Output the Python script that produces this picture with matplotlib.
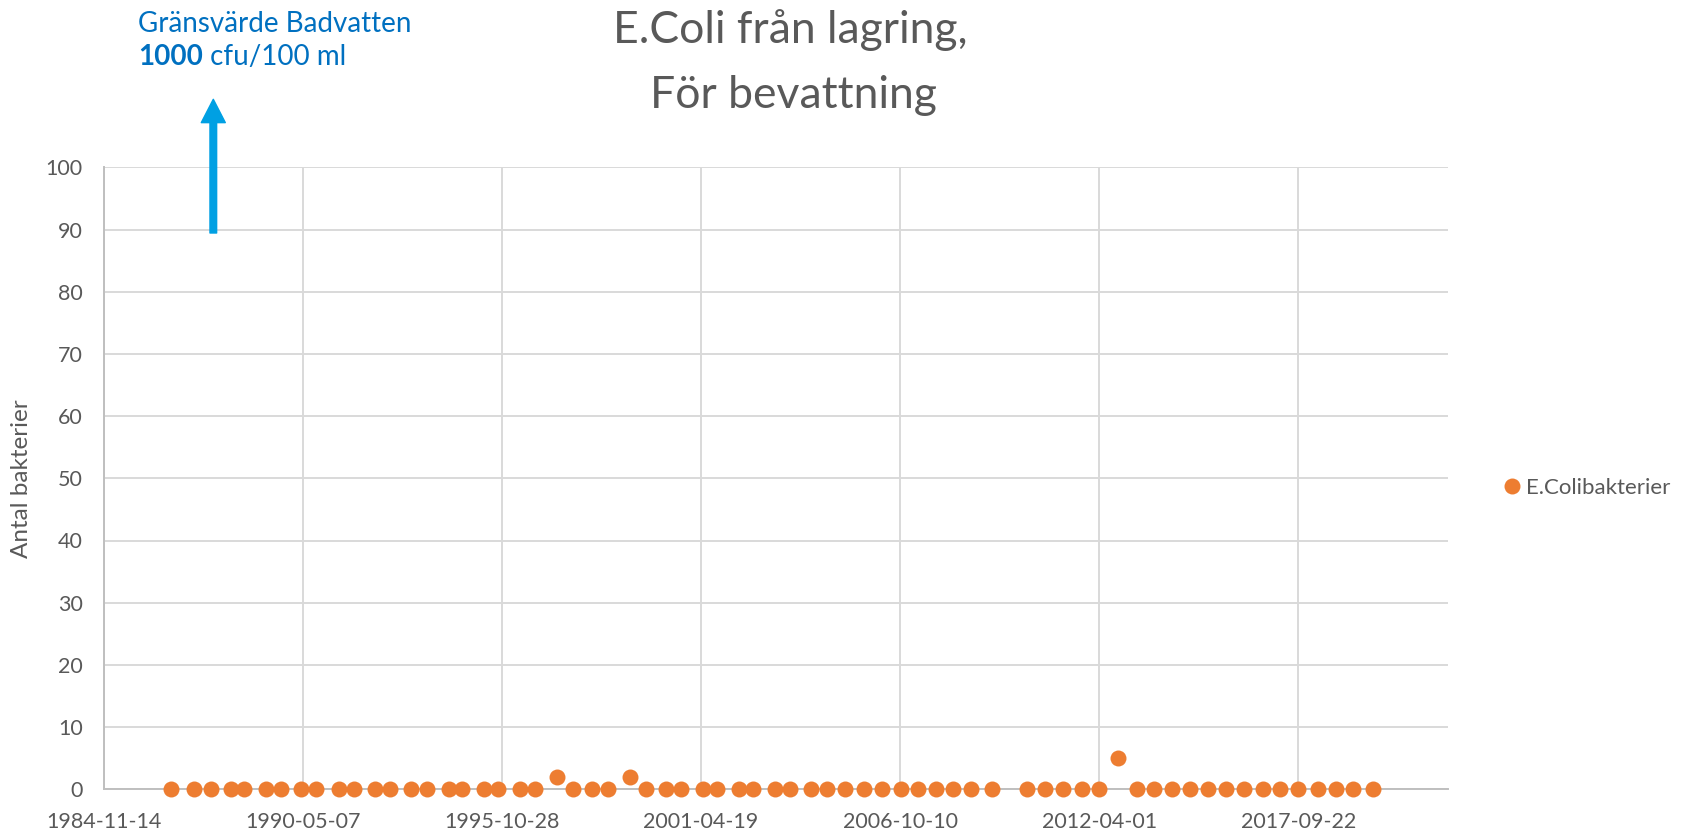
import numpy as np
import matplotlib
matplotlib.use("Agg")
import matplotlib.pyplot as plt
import matplotlib.dates as mdates

plt.rcParams["font.family"] = ["Lato", "DejaVu Sans"]

# E. coli per sample (cfu/100 ml) in the stored irrigation water
sample_dates = [
    "1986-09-21", "1987-05-14", "1987-10-28", "1988-05-16", "1988-09-28",
    "1989-05-03", "1989-10-04", "1990-04-20", "1990-09-21", "1991-05-06",
    "1991-10-07", "1992-05-02", "1992-10-04", "1993-04-29", "1993-10-09",
    "1994-05-15", "1994-09-27", "1995-05-02", "1995-09-19", "1996-04-25",
    "1996-09-23", "1997-05-02", "1997-10-13", "1998-04-25", "1998-09-29",
    "1999-05-12", "1999-10-19", "2000-05-08", "2000-10-06", "2001-05-06",
    "2001-10-02", "2002-05-05", "2002-09-29", "2003-05-01", "2003-09-28",
    "2004-04-27", "2004-10-02", "2005-04-10", "2005-10-12", "2006-04-10",
    "2006-10-15", "2007-04-04", "2007-10-05", "2008-03-28", "2008-09-24",
    "2009-04-17", "2010-04-09", "2010-10-04", "2011-04-06", "2011-10-13",
    "2012-04-01", "2012-10-04", "2013-04-18", "2013-10-03", "2014-03-30",
    "2014-09-29", "2015-04-01", "2015-09-26", "2016-03-29", "2016-09-29",
    "2017-03-23", "2017-09-22", "2018-04-05", "2018-10-03", "2019-03-28",
    "2019-10-15",
]
ecoli_counts = [
    0, 0, 0, 0, 0, 0, 0, 0, 0, 0,
    0, 0, 0, 0, 0, 0, 0, 0, 0, 0,
    0, 2, 0, 0, 0, 2, 0, 0, 0, 0,
    0, 0, 0, 0, 0, 0, 0, 0, 0, 0,
    0, 0, 0, 0, 0, 0, 0, 0, 0, 0,
    0, 5, 0, 0, 0, 0, 0, 0, 0, 0,
    0, 0, 0, 0, 0, 0,
]

axis_start = "1984-11-14"
axis_end = "2021-11-01"
tick_step_days = 2000
n_date_ticks = 7
y_ticks = list(range(0, 101, 10))

TEXT = "#595959"
GRID = "#D9D9D9"
ORANGE = "#ED7D31"
BLUE_TEXT = "#0070C0"
BLUE_ARROW = "#00A0E3"

W, H = 1682, 832
fig = plt.figure(figsize=(W / 100, H / 100), dpi=100)
ax = fig.add_axes([103.5 / W, (H - 789.3) / H, (1447.7 - 103.5) / W, (789.3 - 167.3) / H])

dates = np.array(sample_dates, dtype="datetime64[D]")
ax.plot(dates, ecoli_counts, "o", color=ORANGE, markersize=11.5,
        markeredgewidth=0, label="E.Colibakterier", clip_on=False, zorder=5)

start = np.datetime64(axis_start)
tick_dates = start + np.arange(n_date_ticks) * np.timedelta64(tick_step_days, "D")
ax.set_xlim(start, np.datetime64(axis_end))
ax.set_xticks(tick_dates)
ax.xaxis.set_major_formatter(mdates.DateFormatter("%Y-%m-%d"))
ax.set_ylim(0, 100)
ax.set_yticks(y_ticks)

ax.grid(True, color=GRID, linewidth=1.4)
ax.set_axisbelow(True)
for side in ("top", "right"):
    ax.spines[side].set_visible(False)
for side in ("left", "bottom"):
    ax.spines[side].set_color("#BFBFBF")
    ax.spines[side].set_linewidth(1.4)
ax.tick_params(axis="both", length=0, labelsize=15.5, labelcolor=TEXT)
ax.tick_params(axis="x", pad=16)
ax.tick_params(axis="y", pad=15)

ax.set_ylabel("Antal bakterier", fontsize=17.5, color=TEXT, labelpad=10)

# two-line title
fig.text(790 / W, (H - 43) / H, "E.Coli från lagring,", ha="center", va="baseline",
         fontsize=32, color=TEXT)
fig.text(793 / W, (H - 108) / H, "För bevattning", ha="center", va="baseline",
         fontsize=32, color=TEXT)

# limit value note with arrow pointing off the scale
fig.text(137.7 / W, (H - 32) / H, "Gränsvärde Badvatten", ha="left", va="baseline",
         fontsize=20, color=BLUE_TEXT)
t_bold = fig.text(137.7 / W, (H - 65) / H, "1000", ha="left", va="baseline",
                  fontsize=20, fontweight="bold", color=BLUE_TEXT)
ax.annotate(" cfu/100 ml", xy=(1, 0), xycoords=t_bold, ha="left", va="bottom",
            fontsize=20, color=BLUE_TEXT, annotation_clip=False)

arrow_x = (213.3 - 103.5) / (1447.7 - 103.5)
ax.annotate("", xy=(arrow_x, (789.3 - 99.3) / 622), xytext=(arrow_x, (789.3 - 233) / 622),
            xycoords="axes fraction", textcoords="axes fraction",
            arrowprops=dict(arrowstyle="simple,head_width=1.73,head_length=1.68,tail_width=0.48",
                            mutation_scale=10, color=BLUE_ARROW, shrinkA=0, shrinkB=0),
            annotation_clip=False)

ax.legend(loc="center left", bbox_to_anchor=(1504 / W, (H - 488) / H),
          bbox_transform=fig.transFigure, frameon=False, fontsize=16,
          labelcolor=TEXT, handlelength=0.7, handletextpad=0.3,
          borderpad=0, borderaxespad=0)

fig.savefig("out.png", dpi=100)
